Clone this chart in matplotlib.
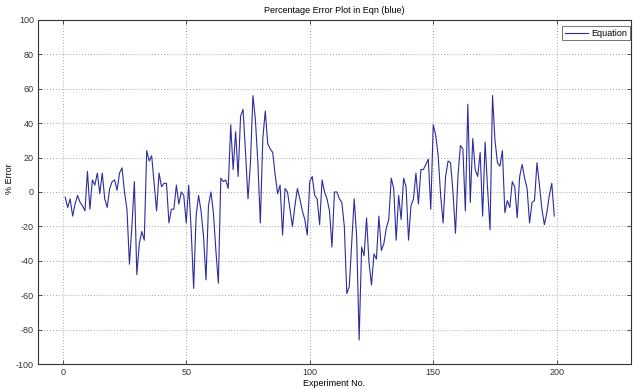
import matplotlib
matplotlib.use("Agg")
import matplotlib.pyplot as plt
import numpy as np

plt.rcParams['font.family'] = ['Liberation Sans', 'DejaVu Sans']
plt.rcParams['axes.unicode_minus'] = False

# percentage error for each experiment run
experiment = list(range(1, 200))
pct_error = [
    -3, -9, -4, -14, -7, -2, -6, -8, -11, 12,
    -10, 7, 4, 11, -1, 11, -4, -9, 2, 6,
    7, 1, 11, 14, 0, -10, -42, -20, 6, -48,
    -30, -23, -28, 24, 18, 21, 5, -11, 11, 3,
    5, 5, -18, -10, -10, 4, -7, 0, -2, -18,
    4, -22, -56, -14, -2, -11, -26, -51, -8, 0,
    -12, -34, -53, 8, 6, 7, 2, 39, 13, 35,
    9, 44, 48, 23, -4, 17, 56, 42, 17, -18,
    31, 47, 28, 25, 23, 10, -1, 4, -25, 2,
    0, -10, -20, -8, 2, -4, -11, -16, -25, 6,
    9, -2, -4, -19, 7, 0, -4, -11, -32, 0,
    0, -4, -6, -20, -59, -55, -30, -4, -26, -86,
    -32, -37, -15, -41, -54, -36, -39, -14, -34, -30,
    -21, -16, 8, 2, -28, -2, -16, 8, 3, -28,
    -8, -4, 11, -7, 13, 13, 16, 19, -10, 39,
    33, 21, -2, -18, 9, 18, 17, 0, -24, 9,
    27, 25, -11, 51, -6, 31, 13, 9, 23, -14,
    29, 2, -22, 56, 30, 17, 15, 24, -12, -5,
    -9, 6, 3, -15, 9, 16, 8, 2, -18, -6,
    -5, 17, 4, -10, -19, -12, -2, 5, -14,
]

x_ticks = [0, 50, 100, 150, 200]
y_ticks = list(range(-100, 101, 20))

fig = plt.figure(figsize=(6.34, 3.89), dpi=100)
ax = fig.add_axes([0.06, 0.064, 0.935, 0.885])

ax.plot(experiment, pct_error, color='#2c2ca0', linewidth=0.8, label='Equation')

ax.set_xlim(-10, 230)
ax.set_ylim(-100, 100)
ax.set_xticks(x_ticks)
ax.set_yticks(y_ticks)

ax.grid(True, linestyle=(0, (1, 2.5)), color='#8a8a8a', linewidth=0.6)
ax.tick_params(direction='in', top=True, right=True, labelsize=6.5,
               length=3, width=0.6, colors='#333333', pad=3)
for sp in ax.spines.values():
    sp.set_color('#333333')
    sp.set_linewidth(0.8)

ax.set_title('Percentage Error Plot in Eqn (blue)', fontsize=6.5, pad=5)
ax.set_xlabel('Experiment No.', fontsize=6.5, labelpad=1)
ax.set_ylabel('% Error', fontsize=6.5)
ax.yaxis.set_label_coords(-0.04, 0.54)

leg = ax.legend(loc='upper right', bbox_to_anchor=(0.998, 0.982),
                borderaxespad=0, fontsize=6.5, frameon=True, fancybox=False,
                handlelength=2.6, handletextpad=0.3, borderpad=0.3)
leg.get_frame().set_edgecolor('#333333')
leg.get_frame().set_linewidth(0.6)

fig.savefig('out.png', dpi=100, facecolor='white')
